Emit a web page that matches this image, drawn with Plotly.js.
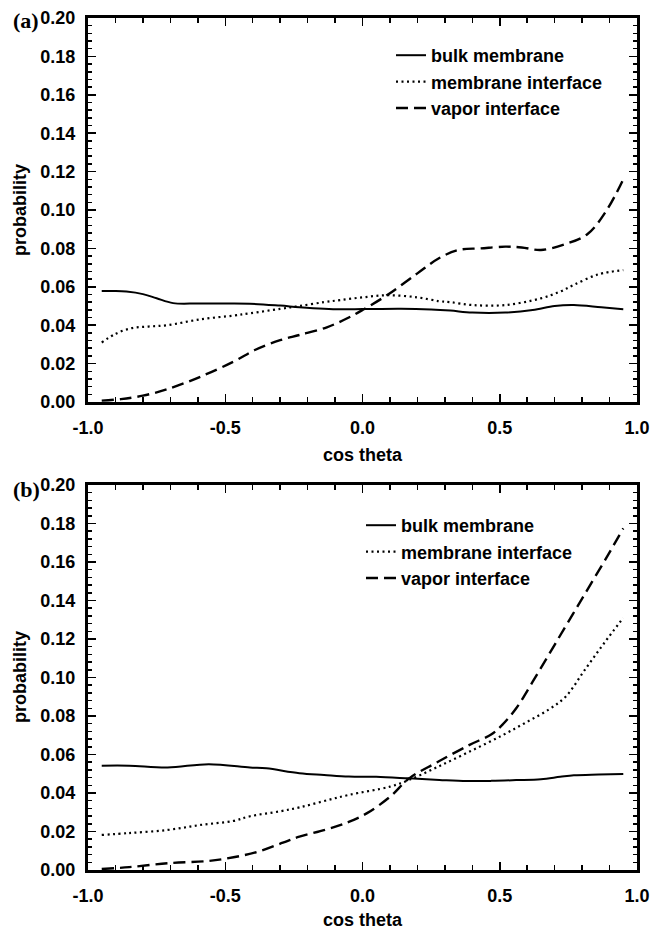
<!DOCTYPE html>
<html>
<head>
<meta charset="utf-8">
<script src="https://cdn.plot.ly/plotly-3.0.1.min.js"></script>
<style>html,body{margin:0;padding:0;background:#fff;}#chart{width:650px;height:932px;}</style>
</head>
<body>
<div id="chart"></div>
<script>
// ---------- data: panel (a) ----------
var seriesNames = ['bulk membrane', 'membrane interface', 'vapor interface'];

var aBulkX = [-0.95,-0.9,-0.86,-0.8,-0.75,-0.69,-0.6,-0.5,-0.41,-0.3,-0.23,-0.14,-0.08,0.0,0.14,0.25,0.32,0.4,0.52,0.62,0.7,0.77,0.87,0.95];
var aBulkY = [0.0578,0.0578,0.0575,0.0562,0.0540,0.0515,0.0513,0.0513,0.0512,0.0502,0.0494,0.0486,0.0483,0.0484,0.0486,0.0482,0.0476,0.0466,0.0466,0.0479,0.0500,0.0505,0.0493,0.0483];

var aMemX = [-0.95,-0.9,-0.84,-0.78,-0.71,-0.59,-0.47,-0.41,-0.3,-0.23,-0.14,-0.08,0.0,0.09,0.2,0.28,0.32,0.4,0.52,0.65,0.72,0.77,0.86,0.95];
var aMemY = [0.031,0.0355,0.0385,0.0393,0.040,0.0431,0.0450,0.0462,0.0485,0.050,0.052,0.0531,0.0545,0.0556,0.0545,0.0525,0.0520,0.0505,0.0505,0.054,0.0575,0.0610,0.0665,0.0687];

var aVapX = [-0.95,-0.88,-0.8,-0.71,-0.59,-0.47,-0.39,-0.3,-0.23,-0.13,-0.05,0.0,0.09,0.2,0.28,0.35,0.43,0.52,0.58,0.65,0.74,0.82,0.89,0.95];
var aVapY = [0.0007,0.0015,0.0033,0.0067,0.0132,0.021,0.0272,0.0322,0.0349,0.0389,0.0440,0.0479,0.0557,0.0670,0.0750,0.0792,0.0800,0.0809,0.0805,0.0792,0.0823,0.0875,0.1000,0.1160];

// ---------- data: panel (b) ----------
var bBulkX = [-0.95,-0.85,-0.71,-0.56,-0.41,-0.35,-0.23,-0.14,-0.05,0.05,0.17,0.28,0.38,0.47,0.56,0.65,0.72,0.77,0.86,0.95];
var bBulkY = [0.0542,0.0542,0.0533,0.0550,0.0533,0.0528,0.0503,0.0494,0.0486,0.0484,0.0476,0.0468,0.0462,0.0463,0.0467,0.0472,0.0484,0.0492,0.0496,0.0499];

var bMemX = [-0.95,-0.85,-0.71,-0.59,-0.47,-0.41,-0.3,-0.23,-0.14,-0.05,0.1,0.17,0.27,0.39,0.51,0.6,0.68,0.74,0.81,0.88,0.95];
var bMemY = [0.0182,0.0192,0.0208,0.0234,0.0255,0.0279,0.0305,0.0325,0.0358,0.0390,0.0433,0.0468,0.0533,0.0615,0.0700,0.0770,0.0835,0.0900,0.1040,0.1178,0.1310];

var bVapX = [-0.95,-0.85,-0.71,-0.56,-0.47,-0.38,-0.29,-0.23,-0.13,-0.05,0.015,0.1,0.17,0.27,0.39,0.47,0.51,0.56,0.62,0.7,0.8,0.9,0.95];
var bVapY = [0.0005,0.0015,0.0035,0.0047,0.0066,0.0095,0.0142,0.0173,0.0211,0.0250,0.0294,0.038,0.0476,0.0558,0.0650,0.0705,0.0755,0.0840,0.0978,0.1170,0.1410,0.1650,0.1775];

// ---------- tick labels ----------
var xTickVals = [-1.0,-0.5,0.0,0.5,1.0];
var xTickText = ['-1.0','-0.5','0.0','0.5','1.0'];
var panelLabels = ['(a)', '(b)'];
var xTitle = 'cos theta';
var yTitle = 'probability';

// ---------- styles ----------
var W = 650, H = 932;
var dashes = ['solid', '2px,3.5px', '12px,6px'];
var lineWidths = [2, 2.2, 2.4];
var boldFont = {family: 'Liberation Sans, Arial, sans-serif', size: 18, color: '#000', weight: 'bold'};

function mk(x, y, i, xa, ya, leg) {
  return {
    x: x, y: y, type: 'scatter', mode: 'lines', name: seriesNames[i],
    xaxis: xa, yaxis: ya, legend: leg,
    line: {color: '#000', width: lineWidths[i], dash: dashes[i], shape: 'spline', smoothing: 1}
  };
}

var traces = [
  mk(aBulkX, aBulkY, 0, 'x', 'y', 'legend'),
  mk(aMemX, aMemY, 1, 'x', 'y', 'legend'),
  mk(aVapX, aVapY, 2, 'x', 'y', 'legend'),
  mk(bBulkX, bBulkY, 0, 'x2', 'y2', 'legend2'),
  mk(bMemX, bMemY, 1, 'x2', 'y2', 'legend2'),
  mk(bVapX, bVapY, 2, 'x2', 'y2', 'legend2')
];

function xAxis(anchor) {
  return {
    domain: [88/W, 637/W], anchor: anchor, range: [-1, 1],
    tickmode: 'array', tickvals: xTickVals, ticktext: xTickText,
    ticks: 'inside', ticklen: 8, tickwidth: 1.5, tickcolor: '#000',
    minor: {tickmode: 'linear', tick0: -1, dtick: 0.1, ticks: 'inside', ticklen: 5, tickwidth: 1.5, tickcolor: '#000'},
    showline: true, linewidth: 3, linecolor: '#000', mirror: 'ticks',
    showgrid: false, zeroline: false,
    tickfont: boldFont, ticklabelstandoff: 7, fixedrange: true
  };
}
function yAxis(anchor, dom) {
  return {
    domain: dom, anchor: anchor, range: [0, 0.2],
    tickmode: 'linear', tick0: 0, dtick: 0.02, tickformat: '.2f',
    ticks: 'inside', ticklen: 8, tickwidth: 1.5, tickcolor: '#000',
    minor: {tickmode: 'linear', tick0: 0, dtick: 0.004, ticks: 'inside', ticklen: 4, tickwidth: 1.5, tickcolor: '#000'},
    showline: true, linewidth: 3, linecolor: '#000', mirror: 'ticks',
    showgrid: false, zeroline: false,
    tickfont: boldFont, ticklabelstandoff: 6, fixedrange: true
  };
}

function legendAt(xpx, ypx) {
  return {
    x: xpx/W, y: 1 - ypx/H, xanchor: 'left', yanchor: 'top',
    bgcolor: 'rgba(0,0,0,0)', borderwidth: 0,
    font: boldFont, tracegroupgap: 0, itemwidth: 30
  };
}

function ann(text, xpx, ypx, font, extra) {
  var a = {text: text, xref: 'paper', yref: 'paper', x: xpx/W, y: 1 - ypx/H,
           showarrow: false, font: font, xanchor: 'center', yanchor: 'middle'};
  for (var k in (extra || {})) a[k] = extra[k];
  return a;
}
var serifFont = {family: 'Liberation Serif, Times New Roman, serif', size: 22, color: '#000', weight: 'bold'};

var layout = {
  width: W, height: H, autosize: false,
  margin: {l: 0, r: 0, t: 0, b: 0},
  paper_bgcolor: '#fff', plot_bgcolor: '#fff',
  showlegend: true,
  xaxis: xAxis('y'),
  yaxis: yAxis('x', [1 - 402/H, 1 - 18/H]),
  xaxis2: xAxis('y2'),
  yaxis2: yAxis('x2', [1 - 870/H, 1 - 485/H]),
  legend: legendAt(391, 37),
  legend2: legendAt(361, 507),
  annotations: [
    ann(panelLabels[0], 11, 21, serifFont, {xanchor: 'left'}),
    ann(panelLabels[1], 11, 489, serifFont, {xanchor: 'left'}),
    ann(yTitle, 20, 210, boldFont, {textangle: -90}),
    ann(yTitle, 20, 677, boldFont, {textangle: -90}),
    ann(xTitle, 362.5, 455, boldFont),
    ann(xTitle, 362.5, 920, boldFont)
  ]
};

Plotly.newPlot('chart', traces, layout, {staticPlot: true, displayModeBar: false});
</script>
</body>
</html>
